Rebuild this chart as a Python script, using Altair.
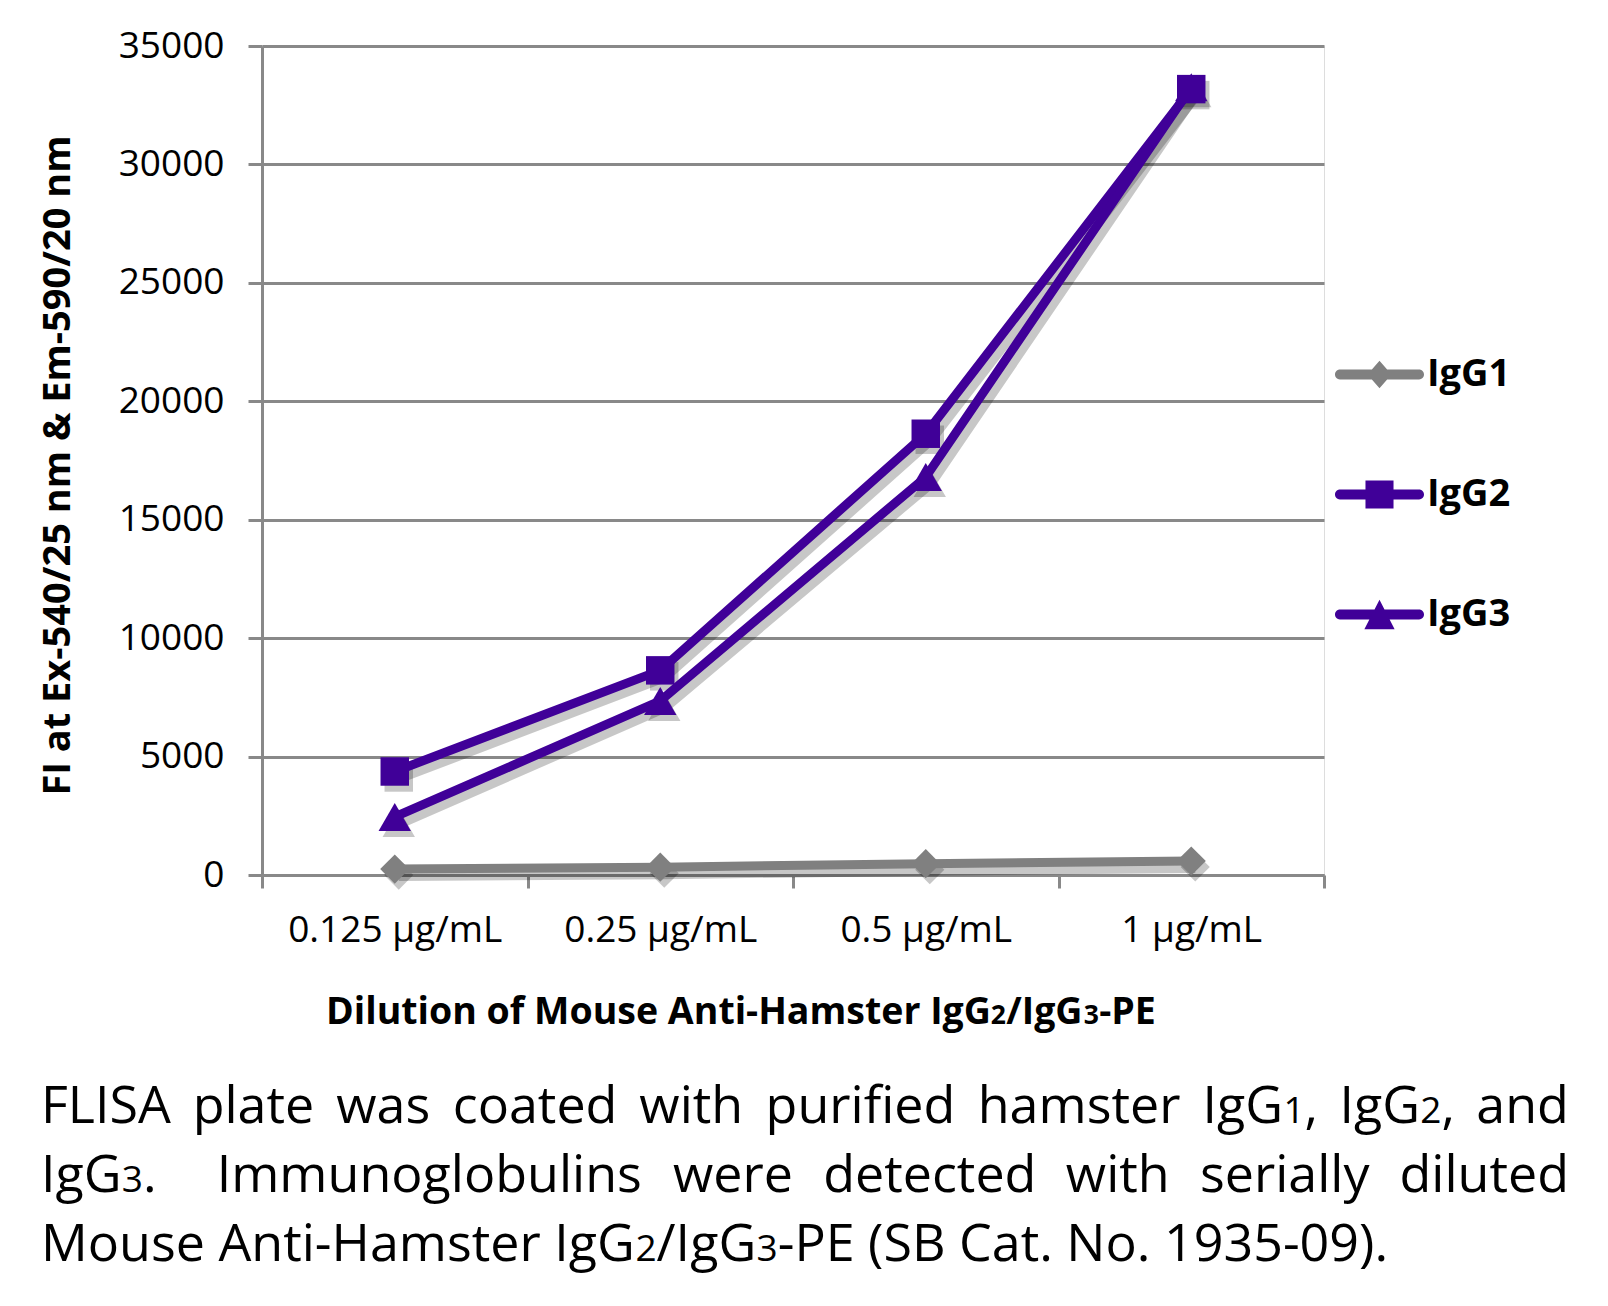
import altair as alt
import pandas as pd

# ---------------- data ----------------
concs = ["0.125 µg/mL", "0.25 µg/mL", "0.5 µg/mL", "1 µg/mL"]
series = ["IgG1", "IgG2", "IgG3"]
igg1 = [250, 330, 480, 590]
igg2 = [4370, 8640, 18630, 33180]
igg3 = [2450, 7350, 16800, 33260]
colors = ["#808080", "#400098", "#400098"]
markers = ["diamond", "square", "triangle-up"]
marker_sizes = [850, 810, 1050]
y_ticks = [0, 5000, 10000, 15000, 20000, 25000, 30000, 35000]

y_title = "FI at Ex-540/25 nm & Em-590/20 nm"

# caption lines as tokens; each token is a list of (text, is_small_digit)
caption_line1 = [[("FLISA", 0)], [("plate", 0)], [("was", 0)], [("coated", 0)], [("with", 0)],
                 [("purified", 0)], [("hamster", 0)], [("IgG", 0), ("1", 1), (",", 0)],
                 [("IgG", 0), ("2", 1), (",", 0)], [("and", 0)]]
caption_line2 = [[("IgG", 0), ("3", 1), (".", 0)], [("Immunoglobulins", 0)], [("were", 0)],
                 [("detected", 0)], [("with", 0)], [("serially", 0)], [("diluted", 0)]]
caption_line3 = [("Mouse Anti-Hamster IgG", 0), ("2", 1), ("/IgG", 0), ("3", 1),
                 ("-PE (SB Cat. No. 1935-09).", 0)]
xtitle_parts = [("Dilution of Mouse Anti-Hamster IgG", 0), ("2", 1), ("/IgG", 0), ("3", 1),
                ("-PE", 0)]

# ---------------- layout ----------------
PLOT_X, PLOT_Y = 262, 46
W, H = 1062, 829
FONT = "Open Sans"
GRID = "#898989"
SHADOW = "rgba(0,0,0,0.22)"
CAP_FS, CAP_SMALL = 52, 37
XT_FS, XT_SMALL = 37.5, 26.5
CAP_LEFT, CAP_RIGHT = 41, 1569
CAP_BASE = [1123, 1192, 1261]

# approximate advance widths (units per em 2048) used only to lay out text runs
REG = {" ": 532, ",": 502, "-": 659, ".": 545, "/": 752, "(": 596, ")": 596,
       "A": 1296, "B": 1327, "C": 1292, "E": 1139, "F": 1057, "G": 1491, "H": 1511,
       "I": 571, "L": 1073, "M": 1849, "N": 1556, "P": 1245, "S": 1104,
       "a": 1139, "b": 1255, "c": 975, "d": 1255, "e": 1149, "f": 694, "g": 1122,
       "h": 1257, "i": 518, "l": 518, "m": 1905, "n": 1257, "o": 1237, "p": 1255,
       "r": 836, "s": 977, "t": 723, "u": 1257, "w": 1604, "y": 1026}
BOLD = {" ": 532, "-": 659, "/": 799, "A": 1386, "D": 1479, "E": 1139, "G": 1456,
        "H": 1593, "I": 739, "M": 1933, "P": 1276, "a": 1198, "e": 1178, "f": 793,
        "g": 1135, "i": 600, "l": 600, "m": 1894, "n": 1296, "o": 1237, "r": 911,
        "s": 997, "t": 834, "u": 1296}


def tw(text, size, table, factor=1.0):
    return sum(table.get(ch, 1171) for ch in text) / 2048 * size * factor


rows_cap = []


def place_runs(parts, x, y, fs, small, table, out, factor=1.0):
    for t, sm in parts:
        size = small if sm else fs
        out.append({"t": t, "px": x - PLOT_X, "py": y - PLOT_Y, "fs": size})
        x += tw(t, size, table, factor)
    return x


def justify(tokens, y, gap_weights):
    widths = [sum(tw(t, CAP_SMALL if sm else CAP_FS, REG) for t, sm in tok) for tok in tokens]
    gap = (CAP_RIGHT - CAP_LEFT - sum(widths)) / sum(gap_weights)
    x = CAP_LEFT
    for i, tok in enumerate(tokens):
        place_runs(tok, x, y, CAP_FS, CAP_SMALL, REG, rows_cap)
        if i < len(gap_weights):
            x += widths[i] + gap * gap_weights[i]


justify(caption_line1, CAP_BASE[0], [1] * (len(caption_line1) - 1))
justify(caption_line2, CAP_BASE[1], [2] + [1] * (len(caption_line2) - 2))
place_runs(caption_line3, CAP_LEFT, CAP_BASE[2], CAP_FS, CAP_SMALL, REG, rows_cap)

rows_xt = []
place_runs(xtitle_parts, 326, 1024, XT_FS, XT_SMALL, BOLD, rows_xt, factor=1.024)

rows = []
for s, vals, m, sz in zip(series, [igg1, igg2, igg3], markers, marker_sizes):
    for conc, v in zip(concs, vals):
        rows.append({"conc": conc, "series": s, "value": v, "mk": m, "sz": sz})
df = pd.DataFrame(rows)

# legend symbols: rounded line + marker, in unit coordinates
line_path = ("M-0.89,-0.11L0.89,-0.11A0.11,0.11,0,0,1,0.89,0.11"
             "L-0.89,0.11A0.11,0.11,0,0,1,-0.89,-0.11Z")
legend_paths = [
    line_path + " M0,-0.31L0.27,0L0,0.31L-0.27,0Z",
    line_path + " M-0.315,-0.315L0.315,-0.315L0.315,0.315L-0.315,0.315Z",
    line_path + " M0,-0.33L0.34,0.33L-0.34,0.33Z",
]

xenc = alt.X(
    "conc:N", sort=concs,
    scale=alt.Scale(type="band", paddingInner=0, paddingOuter=0),
    axis=alt.Axis(
        title=None, labelAngle=0, labelFont=FONT, labelFontSize=37, labelColor="black",
        labelPadding=24, labelLimit=0, tickBand="extent", tickSize=13, tickWidth=3,
        tickColor=GRID, domainColor=GRID, domainWidth=3, grid=False,
    ),
)
yenc = alt.Y(
    "value:Q",
    scale=alt.Scale(domain=[0, 35000], nice=False),
    axis=alt.Axis(
        values=y_ticks, format="d", title=y_title, titleFont=FONT, titleFontWeight="bold",
        titleFontSize=38, titleColor="black", titleAngle=270, titleX=-204, titleY=419,
        titleAlign="center", titleBaseline="middle", titleLimit=0,
        labelFont=FONT, labelFontSize=37, labelColor="black", labelPadding=24,
        tickSize=14, tickWidth=3, tickColor=GRID, domainColor=GRID, domainWidth=3,
        grid=True, gridColor=GRID, gridWidth=3,
    ),
)
cscale = alt.Scale(domain=series, range=colors)

base = alt.Chart(df)

leg = alt.Legend(
    title=None, orient="none", legendX=1335 - PLOT_X, legendY=330 - PLOT_Y,
    symbolSize=7921, symbolStrokeWidth=0, symbolOpacity=1, rowPadding=56,
    labelFont=FONT, labelFontWeight="bold", labelFontSize=38, labelColor="black",
    labelOffset=3, padding=0,
)
legend_layer = base.mark_point(filled=True, opacity=1).encode(
    x=xenc, y=yenc,
    shape=alt.Shape("series:N", scale=alt.Scale(domain=series, range=legend_paths), legend=leg),
    color=alt.Color("series:N", scale=cscale, legend=leg),
    opacity=alt.value(1),
).transform_filter("false")

line_shadow = base.mark_line(color=SHADOW, strokeWidth=12, xOffset=4, yOffset=6).encode(
    x=xenc, y=yenc, detail="series:N")
pt_shadow = base.mark_point(filled=True, color=SHADOW, xOffset=4, yOffset=6).encode(
    x=xenc, y=yenc, shape=alt.Shape("mk:N", scale=None), size=alt.Size("sz:Q", scale=None),
    opacity=alt.value(1))
lines = base.mark_line(strokeWidth=9, strokeJoin="round").encode(
    x=xenc, y=yenc, color=alt.Color("series:N", scale=cscale, legend=None))
points = base.mark_point(filled=True).encode(
    x=xenc, y=yenc,
    shape=alt.Shape("mk:N", scale=None),
    size=alt.Size("sz:Q", scale=None),
    color=alt.Color("series:N", scale=cscale, legend=None),
    opacity=alt.value(1),
)

caption = alt.Chart(pd.DataFrame(rows_cap)).mark_text(
    font=FONT, align="left", baseline="alphabetic", color="black").encode(
    x=alt.X("px:Q", scale=None), y=alt.Y("py:Q", scale=None),
    text="t:N", size=alt.Size("fs:Q", scale=None))
xtitle = alt.Chart(pd.DataFrame(rows_xt)).mark_text(
    font=FONT, fontWeight="bold", align="left", baseline="alphabetic", color="black").encode(
    x=alt.X("px:Q", scale=None), y=alt.Y("py:Q", scale=None),
    text="t:N", size=alt.Size("fs:Q", scale=None))

chart = alt.layer(
    legend_layer, line_shadow, pt_shadow, lines, points, caption, xtitle
).properties(
    width=W, height=H,
    autosize=alt.AutoSizeParams(type="none"),
    padding={"left": PLOT_X - 8, "top": PLOT_Y - 8,
             "right": 1608 - 16 - (PLOT_X - 8) - W,
             "bottom": 1306 - 24 - (PLOT_Y - 8) - H},
).configure_view(stroke=None).configure(background="white")

chart.save("out.html", embed_options={"renderer": "svg", "actions": False})
